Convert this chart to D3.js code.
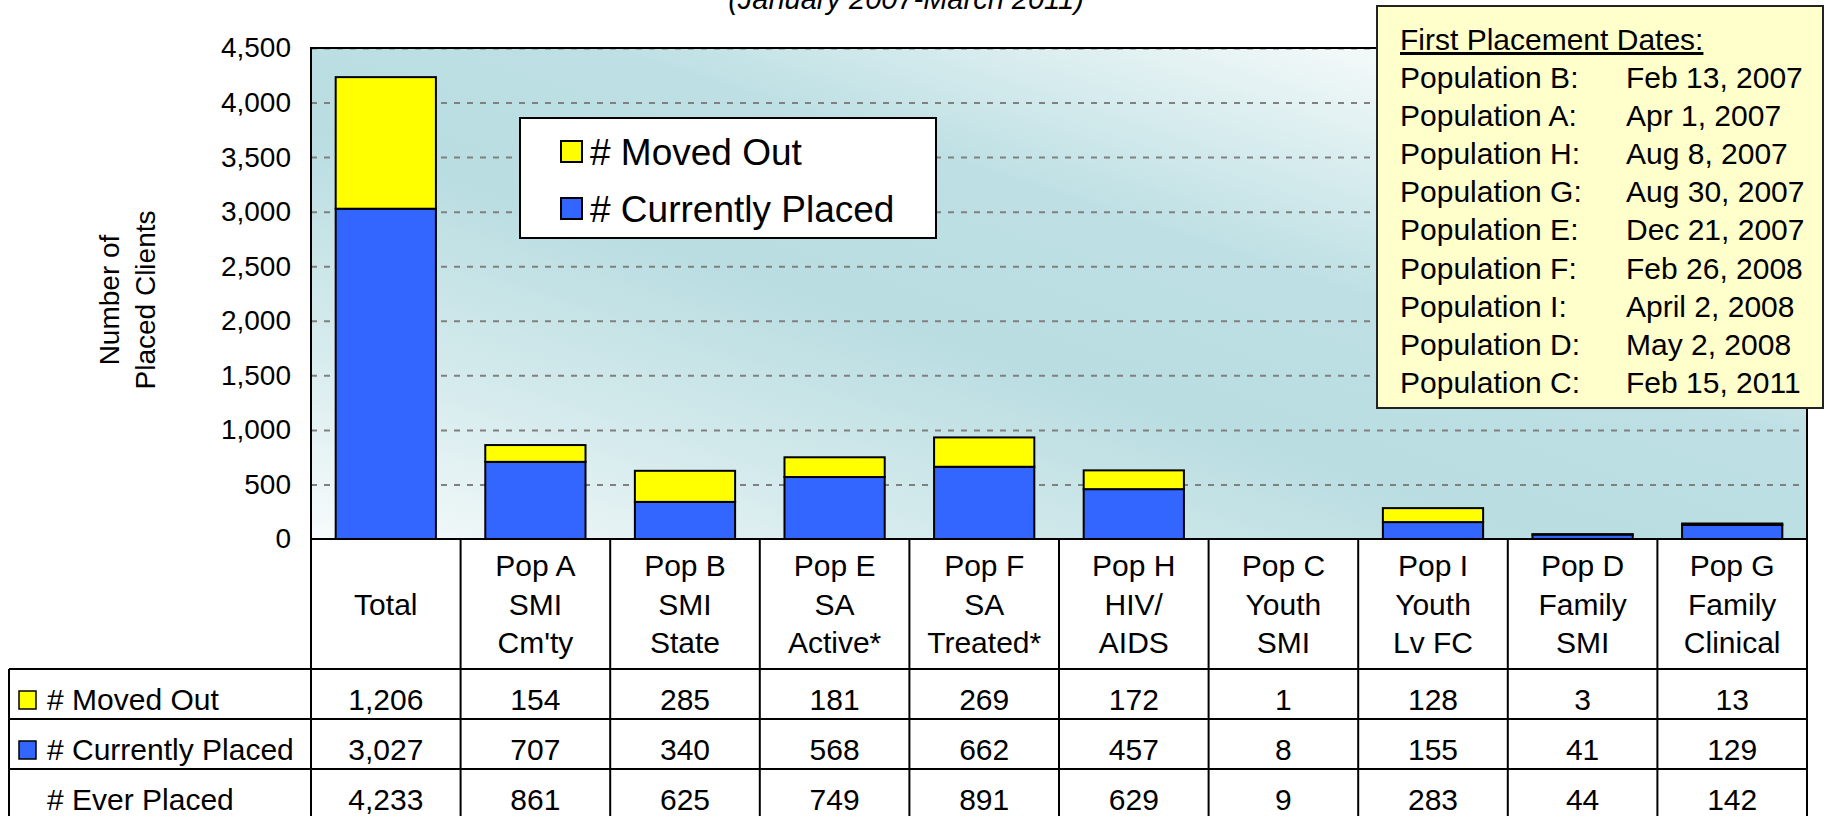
<!DOCTYPE html>
<html>
<head>
<meta charset="utf-8">
<script src="https://cdn.jsdelivr.net/npm/d3@7"></script>
<style>
  body { margin: 0; background: #fff; }
  text { font-family: "Liberation Sans", Arial, sans-serif; fill: #000; }
</style>
</head>
<body>
<div id="chart"></div>
<script>
// data
const categories = ["Total", "Pop A", "Pop B", "Pop E", "Pop F", "Pop H", "Pop C", "Pop I", "Pop D", "Pop G"];
const headerLines = [
    ["Total"],
    ["Pop A", "SMI", "Cm'ty"],
    ["Pop B", "SMI", "State"],
    ["Pop E", "SA", "Active*"],
    ["Pop F", "SA", "Treated*"],
    ["Pop H", "HIV/", "AIDS"],
    ["Pop C", "Youth", "SMI"],
    ["Pop I", "Youth", "Lv FC"],
    ["Pop D", "Family", "SMI"],
    ["Pop G", "Family", "Clinical"]
];
const movedOut = [1206, 154, 285, 181, 269, 172, 1, 128, 3, 13];
const currentlyPlaced = [3027, 707, 340, 568, 662, 457, 8, 155, 41, 129];
const everPlaced = [4233, 861, 625, 749, 891, 629, 9, 283, 44, 142];
const yTicks = [0, 500, 1000, 1500, 2000, 2500, 3000, 3500, 4000, 4500];

const placementPops = ["Population B:", "Population A:", "Population H:", "Population G:", "Population E:",
    "Population F:", "Population I:", "Population D:", "Population C:"];
const placementDates = ["Feb 13, 2007", "Apr 1, 2007", "Aug 8, 2007", "Aug 30, 2007", "Dec 21, 2007",
    "Feb 26, 2008", "April 2, 2008", "May 2, 2008", "Feb 15, 2011"];

const YELLOW = "#ffff00";
const BLUE = "#3366ff";

const W = 1842, H = 816;
const plot = { left: 311, right: 1807, top: 48, bottom: 539 };
const tableLeft = 9;
const headerBottom = 669;
const rowH = 50;

const svg = d3.select("#chart").append("svg")
    .attr("width", W)
    .attr("height", H);

const x = d3.scaleBand()
    .domain(categories)
    .range([plot.left, plot.right])
    .paddingInner(0.33)
    .paddingOuter(0.165);

const col = d3.scaleBand()
    .domain(categories)
    .range([plot.left, plot.right]);

const y = d3.scaleLinear()
    .domain([0, 4500])
    .range([plot.bottom, plot.top]);

// background gradient
const defs = svg.append("defs");
const grad = defs.append("linearGradient")
    .attr("id", "bg")
    .attr("x1", 0).attr("y1", 1)
    .attr("x2", 1).attr("y2", 0);
[[0, "#f7fbfb"], [0.2, "#d6ebed"], [0.42, "#b9dde1"], [0.6, "#bee0e4"], [0.84, "#f1f8f8"], [1, "#ffffff"]]
    .forEach(s => grad.append("stop").attr("offset", s[0]).attr("stop-color", s[1]));

svg.append("rect")
    .attr("x", plot.left)
    .attr("y", plot.top)
    .attr("width", plot.right - plot.left)
    .attr("height", plot.bottom - plot.top)
    .attr("fill", "url(#bg)");

// title (cut at the top, as in the source)
svg.append("text")
    .attr("x", 906)
    .attr("y", 9)
    .attr("text-anchor", "middle")
    .attr("font-size", 29)
    .attr("font-style", "italic")
    .text("(January 2007-March 2011)");

// gridlines
svg.append("g")
    .selectAll("line")
    .data(yTicks.filter(d => d > 0))
    .join("line")
    .attr("x1", plot.left)
    .attr("x2", plot.right)
    .attr("y1", d => y(d) + 0.5)
    .attr("y2", d => y(d) + 0.5)
    .attr("stroke", "#808080")
    .attr("stroke-width", 2)
    .attr("stroke-dasharray", "6,7");

// y axis labels
const yAxis = svg.append("g")
    .attr("transform", `translate(${plot.left},0)`)
    .call(d3.axisLeft(y).tickValues(yTicks).tickSize(0).tickPadding(20).tickFormat(d3.format(",")));
yAxis.select(".domain").remove();
yAxis.selectAll("text")
    .attr("font-size", 28)
    .attr("font-family", "'Liberation Sans', Arial, sans-serif")
    .attr("fill", "#000");

// y title
const yTitle = svg.append("text")
    .attr("transform", "translate(0,300) rotate(-90)")
    .attr("text-anchor", "middle")
    .attr("font-size", 28);
yTitle.append("tspan").attr("x", 0).attr("y", 119).text("Number of");
yTitle.append("tspan").attr("x", 0).attr("y", 155).text("Placed Clients");

// stacked bars
const rows = categories.map((c, i) => ({ cat: c, current: currentlyPlaced[i], moved: movedOut[i] }));
const series = d3.stack().keys(["current", "moved"])(rows);
const colors = { current: BLUE, moved: YELLOW };

svg.append("g")
    .selectAll("g")
    .data(series)
    .join("g")
    .attr("fill", d => colors[d.key])
    .selectAll("rect")
    .data(d => d)
    .join("rect")
    .attr("x", d => x(d.data.cat))
    .attr("y", d => y(d[1]))
    .attr("width", x.bandwidth())
    .attr("height", d => y(d[0]) - y(d[1]))
    .attr("stroke", d => (d.data.current + d.data.moved) < 20 ? "none" : "#000")
    .attr("stroke-width", 2);

// plot frame
svg.append("rect")
    .attr("x", plot.left)
    .attr("y", plot.top)
    .attr("width", plot.right - plot.left)
    .attr("height", plot.bottom - plot.top)
    .attr("fill", "none")
    .attr("stroke", "#000")
    .attr("stroke-width", 2);

// legend
const legend = svg.append("g").attr("transform", "translate(520,118)");
legend.append("rect")
    .attr("width", 416)
    .attr("height", 120)
    .attr("fill", "#fff")
    .attr("stroke", "#000")
    .attr("stroke-width", 2);
[["# Moved Out", YELLOW], ["# Currently Placed", BLUE]].forEach((d, i) => {
    legend.append("rect")
        .attr("x", 41).attr("y", 23 + i * 57)
        .attr("width", 21).attr("height", 21)
        .attr("fill", d[1])
        .attr("stroke", "#000")
        .attr("stroke-width", 2);
    legend.append("text")
        .attr("x", 70).attr("y", 47 + i * 57)
        .attr("font-size", 37)
        .text(d[0]);
});

// data table
const table = svg.append("g");
const tableRows = [
    { label: "# Moved Out", color: YELLOW, values: movedOut },
    { label: "# Currently Placed", color: BLUE, values: currentlyPlaced },
    { label: "# Ever Placed", color: null, values: everPlaced }
];
const fmt = d3.format(",");

// header labels
categories.forEach((c, i) => {
    const lines = headerLines[i];
    const cx = col(c) + col.bandwidth() / 2;
    const cy = (plot.bottom + headerBottom) / 2;
    const t = table.append("text")
        .attr("text-anchor", "middle")
        .attr("font-size", 30);
    lines.forEach((l, j) => {
        t.append("tspan")
            .attr("x", cx)
            .attr("y", cy + (j - (lines.length - 1) / 2) * 38.5 + 10.5)
            .text(l);
    });
});

// row values and labels
tableRows.forEach((r, k) => {
    const top = headerBottom + k * rowH;
    if (r.color) {
        table.append("rect")
            .attr("x", 19).attr("y", top + 22)
            .attr("width", 17).attr("height", 18)
            .attr("fill", r.color)
            .attr("stroke", "#000")
            .attr("stroke-width", 1.5);
    }
    table.append("text")
        .attr("x", 47)
        .attr("y", top + 41)
        .attr("font-size", 30)
        .text(r.label);
    table.selectAll(null)
        .data(r.values)
        .join("text")
        .attr("x", (d, i) => col(categories[i]) + col.bandwidth() / 2)
        .attr("y", top + 41)
        .attr("text-anchor", "middle")
        .attr("font-size", 30)
        .text(d => fmt(d));
});

// table lines
const tableBottom = headerBottom + 3 * rowH;
const lineAttrs = sel => sel.attr("stroke", "#000").attr("stroke-width", 2);
for (let k = 0; k < 3; k++) {
    table.append("line")
        .attr("x1", tableLeft).attr("x2", plot.right)
        .attr("y1", headerBottom + k * rowH).attr("y2", headerBottom + k * rowH)
        .call(lineAttrs);
}
table.append("line")
    .attr("x1", tableLeft).attr("x2", tableLeft)
    .attr("y1", headerBottom).attr("y2", tableBottom)
    .call(lineAttrs);
categories.forEach(c => {
    table.append("line")
        .attr("x1", col(c)).attr("x2", col(c))
        .attr("y1", plot.bottom).attr("y2", tableBottom)
        .call(lineAttrs);
});
table.append("line")
    .attr("x1", plot.right).attr("x2", plot.right)
    .attr("y1", plot.bottom).attr("y2", tableBottom)
    .call(lineAttrs);

// first placement dates box
const box = svg.append("g").attr("transform", "translate(1377,6)");
box.append("rect")
    .attr("width", 446)
    .attr("height", 402)
    .attr("fill", "#ffffcc")
    .attr("stroke", "#222")
    .attr("stroke-width", 2);
box.append("text")
    .attr("x", 23)
    .attr("y", 44)
    .attr("font-size", 30)
    .attr("text-decoration", "underline")
    .text("First Placement Dates:");
placementPops.forEach((p, i) => {
    box.append("text")
        .attr("x", 23)
        .attr("y", 82 + i * 38.1)
        .attr("font-size", 30)
        .text(p);
    box.append("text")
        .attr("x", 249)
        .attr("y", 82 + i * 38.1)
        .attr("font-size", 30)
        .text(placementDates[i]);
});
</script>
</body>
</html>
